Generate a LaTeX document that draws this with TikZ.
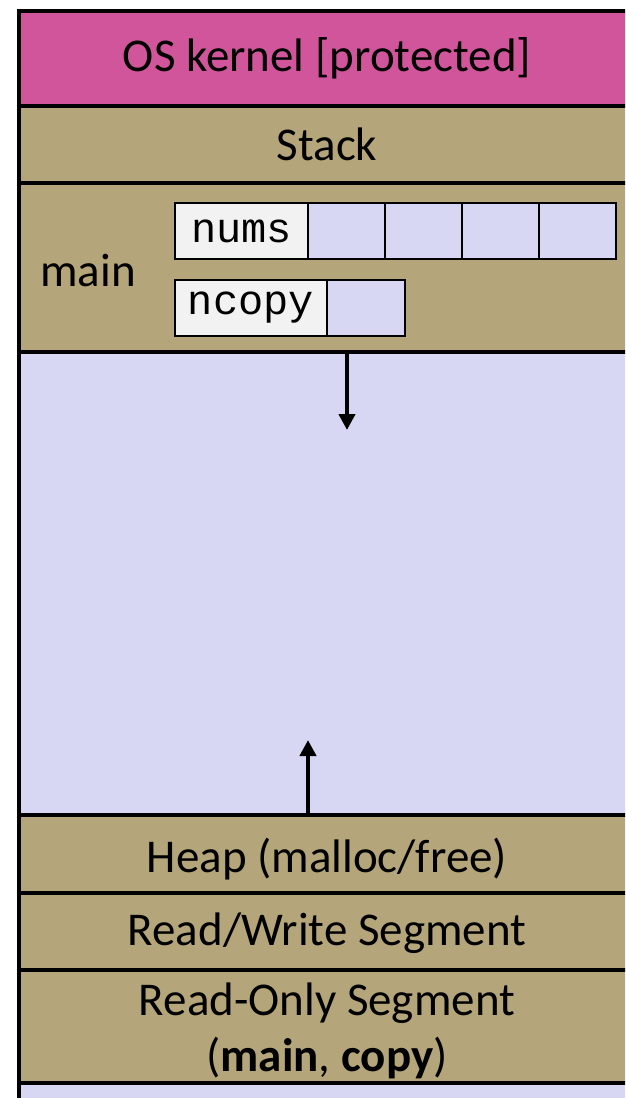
\documentclass[tikz,border=0pt]{standalone}
\usepackage{fontspec}
\setmainfont{Carlito}
\setmonofont{Liberation Mono}
\usetikzlibrary{arrows.meta, positioning}

\definecolor{kernelpink}{HTML}{D0559A}
\definecolor{segtan}{HTML}{B5A57A}
\definecolor{freelav}{HTML}{D7D7F4}
\definecolor{namegray}{HTML}{F2F2F2}

\newcommand{\lowered}[2]{\raisebox{-#1}[\height][\depth]{#2}}

\begin{document}
\begin{tikzpicture}[x=1pt,y=1pt,
        seg/.style={outer sep=0pt, inner sep=0pt, minimum width=616pt, fill=segtan, font=\fontsize{47}{56}\selectfont, align=center},
        segline/.style={line width=4.5pt, line cap=rect},
        varname/.style={draw, line width=2.7pt, outer sep=0pt, inner sep=0pt, fill=namegray, minimum height=56pt, font=\ttfamily\fontsize{42}{48}\selectfont},
        cell/.style={draw, line width=2.7pt, outer sep=0pt, inner sep=0pt, fill=freelav, minimum width=77pt, minimum height=56pt},
        growarrow/.style={line width=4.5pt, -{Triangle[width=16pt,length=16pt]}}]
        \useasboundingbox (0,0) rectangle (625,-1098);
        \clip (0,0) rectangle (625,-1098);

        \node[seg, fill=kernelpink, minimum height=95pt, anchor=north west] (kernel) at (19,-11) {OS kernel [protected]};
        \node[seg, minimum height=77pt]   (stack)     [below=0pt of kernel]    {Stack};
        \node[seg, minimum height=169pt]  (mainframe) [below=0pt of stack]     {};
        \node[seg, fill=freelav, minimum height=463pt] (free) [below=0pt of mainframe] {};
        \node[seg, minimum height=78pt]   (heap)      [below=0pt of free]      {\lowered{5pt}{Heap (malloc/free)}};
        \node[seg, minimum height=77pt]   (rw)        [below=0pt of heap]      {\lowered{2pt}{Read/Write Segment}};
        \node[seg, minimum height=113pt]  (ro)        [below=0pt of rw]        {\lowered{4pt}{Read-Only Segment}\\\lowered{4pt}{(\textbf{main}, \textbf{copy})}};
        \node[seg, fill=freelav, minimum height=40pt] (rest) [below=0pt of ro] {};

        % segment borders
        \foreach \seg in {kernel,stack,mainframe,free,heap,rw,ro,rest}
            \draw[segline] (\seg.north west) -- (\seg.north east);
        \draw[segline] (kernel.north west) -- (rest.south west);

        \node[font=\fontsize{47}{56}\selectfont, inner sep=0pt, anchor=west] (mainlbl) at (40,-270) {main};

        \node[varname, minimum width=133pt, anchor=north west] (nums) at (175,-203) {nums};
        \node[cell] (n1) [right=0pt of nums] {};
        \node[cell] (n2) [right=0pt of n1]   {};
        \node[cell] (n3) [right=0pt of n2]   {};
        \node[cell] (n4) [right=0pt of n3]   {};

        \node[varname, minimum width=152pt, anchor=north west] (ncopy) at (175,-280) {ncopy};
        \node[cell, minimum width=78pt] (c1) [right=0pt of ncopy] {};

        \coordinate (stacktip) at (347,-430);
        \coordinate (heaptip)  at (308,-740);
        \draw[growarrow] (stacktip |- free.north) -- (stacktip);
        \draw[growarrow] (heaptip |- free.south) -- (heaptip);
    \end{tikzpicture}
\end{document}
